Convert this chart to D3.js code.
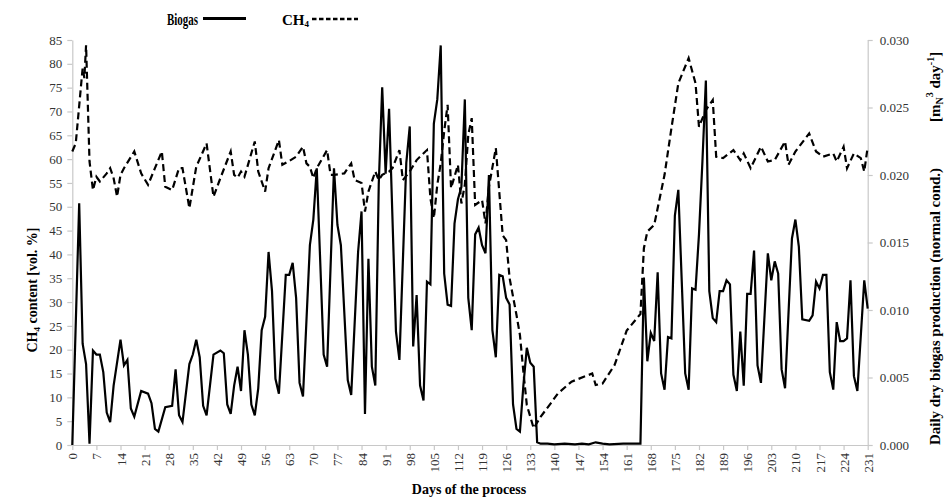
<!DOCTYPE html>
<html>
<head>
<meta charset="utf-8">
<script src="https://cdn.jsdelivr.net/npm/d3@7/dist/d3.min.js"></script>
<style>
  html, body { margin: 0; padding: 0; background: #fff; }
  svg { display: block; }
  text { font-family: "Liberation Serif", "Times New Roman", serif; }
</style>
</head>
<body>
<svg id="chart" width="951" height="501"></svg>
<script>
// ---- data ----
const biogasDays = [0,2,3,4,5,6,7,8,9,10,11,12,14,15,16,17,18,20,22,23,24,25,27,29,30,31,32,34,35,36,37,38,39,41,43,44,45,46,47,48,49,50,51,52,53,54,55,56,57,58,59,60,62,63,64,65,66,67,69,70,71,73,74,76,77,78,80,81,83,84,85,86,87,88,89,90,91,92,94,95,97,98,99,100,101,102,103,104,105,106,107,108,109,110,111,112,113,114,115,116,117,118,119,120,121,122,123,124,125,126,127,128,129,130,131,132,133,134,135,136,138,140,143,146,148,150,152,154,156,160,164,165,166,167,168,169,170,171,172,173,174,175,176,177,178,179,180,181,182,183,184,185,186,187,188,189,190,191,192,193,194,195,196,197,198,199,200,202,203,204,205,206,207,209,210,211,212,214,215,216,217,218,219,220,221,222,223,224,225,226,227,228,230,231];
const biogasValues = [0,0.0179,0.0075,0.0060,0.0001,0.0070,0.0067,0.0067,0.0054,0.0024,0.0017,0.0044,0.0078,0.0059,0.0063,0.0027,0.0021,0.0040,0.0038,0.0031,0.0012,0.0010,0.0028,0.0029,0.0056,0.0022,0.0017,0.0060,0.0067,0.0078,0.0065,0.0029,0.0022,0.0067,0.0070,0.0068,0.0030,0.0023,0.0044,0.0058,0.0040,0.0085,0.0067,0.0030,0.0022,0.0042,0.0085,0.0095,0.0143,0.0114,0.0049,0.0038,0.0126,0.0126,0.0135,0.0109,0.0046,0.0036,0.0148,0.0167,0.0205,0.0067,0.0058,0.0205,0.0163,0.0148,0.0048,0.0037,0.0143,0.0173,0.0023,0.0138,0.0058,0.0044,0.0193,0.0265,0.0201,0.0249,0.0084,0.0063,0.0209,0.0236,0.0073,0.0111,0.0044,0.0033,0.0121,0.0119,0.0238,0.0256,0.0296,0.0127,0.0104,0.0103,0.0164,0.0182,0.0191,0.0256,0.0109,0.0085,0.0156,0.0161,0.0148,0.0142,0.0200,0.0085,0.0065,0.0126,0.0125,0.0109,0.0104,0.0030,0.0012,0.0010,0.0044,0.0072,0.0061,0.0058,0.0002,0.0001,0.0001,0.00005,0.0001,0.00005,0.0001,0.00005,0.0002,0.0001,0.00005,0.0001,0.0001,0.0001,0.0124,0.0062,0.0083,0.0077,0.0128,0.0053,0.0041,0.0080,0.0079,0.0170,0.0189,0.0121,0.0053,0.0041,0.0116,0.0115,0.0156,0.0210,0.0270,0.0114,0.0094,0.0091,0.0114,0.0114,0.0122,0.0119,0.0052,0.0040,0.0084,0.0044,0.0112,0.0112,0.0144,0.0059,0.0046,0.0142,0.0122,0.0136,0.0127,0.0056,0.0042,0.0153,0.0167,0.0147,0.0093,0.0092,0.0096,0.0121,0.0116,0.0126,0.0126,0.0054,0.0041,0.0091,0.0077,0.0077,0.0079,0.0122,0.0051,0.0040,0.0122,0.0101];

const ch4Days = [0,1,3,3.5,4,5,6,7,8,10,11,12,13,14,15,18,20,22,24,26,27,29,31,32,34,36,39,41,43,46,47,48,49,50,53,54,56,57,60,61,63,65,67,68,69,70,71,74,75,76,79,81,82,84,85,86,88,89,90,92,93,95,96,98,100,103,104,105,106,107,108,109,110,112,113,114,115,116,117,119,120,121,123,125,126,127,129,130,131,132,134,136,139,141,145,151,152,154,157.5,161,165,166,167,169,172,174,176,179,181,182,184,186,187,189,192,194,195,197,200,202,204,207,208,210,214,216,218,221,222,224,225,227,229,230,231];
const ch4Values = [61.6,63.3,79.1,77,83.9,59.5,53.5,56.3,55.3,57,58.1,56,52.1,56.7,58.1,61.6,57,54.6,58.1,61.6,54.2,53.5,58.1,58.1,49.7,58.4,63.3,52.1,56,61.6,56.7,56.1,57.4,56.3,63.7,57.4,53.2,58.1,64,58.8,59.6,60.5,62.6,59.1,58.4,56,58.1,61.9,56.7,56.7,57,59.1,55.6,55,49,53.2,57.4,55.6,56.7,57.4,58.1,61.9,55.6,57.4,59.8,61.9,51.8,47.6,54.6,59.1,65.8,71.4,53.9,58.8,50.7,54.6,65.1,68.6,50.4,51.4,46.5,54.2,62.3,44,43,35,27.3,23.1,15.4,8.4,3.5,5.9,8.8,10.8,13.3,15,12.6,12.9,16.8,24,27.5,41.3,44.8,46.2,56.7,66.5,75.9,81.2,75.9,66.8,70.3,72.4,60.5,60.2,61.9,59.8,61.2,58.1,62.6,59.5,59.8,63.7,58.8,61.6,65.4,61.6,60.5,61.2,59.5,62.6,58.1,61.2,60.2,57.4,62.6];

const dayTicks = d3.range(0, 232, 7);
const leftTicks = d3.range(0, 86, 5);
const rightTicks = [0, 0.005, 0.010, 0.015, 0.020, 0.025, 0.030];

// ---- layout ----
const svg = d3.select("#chart");
const x = d3.scaleLinear().domain([0, 231]).range([72.3, 867.7]);
const yL = d3.scaleLinear().domain([0, 85]).range([445, 40]);
const yR = d3.scaleLinear().domain([0, 0.03]).range([445, 40]);
const axisColor = "#c8c8c8";
const labelColor = "#333";

function styleAxis(g) {
  g.selectAll("path.domain").attr("stroke", axisColor).attr("stroke-width", 1.2);
  g.selectAll(".tick line").attr("stroke", axisColor).attr("stroke-width", 1.2);
  g.selectAll(".tick text").attr("fill", labelColor)
    .style("font-family", '"Liberation Serif", serif').style("font-size", "13px");
}

// x axis
const gx = svg.append("g").attr("transform", "translate(0,445)")
  .call(d3.axisBottom(x).tickValues(dayTicks).tickSize(5).tickSizeOuter(0).tickFormat(d3.format("d")));
styleAxis(gx);
gx.selectAll(".tick text")
  .attr("transform", "rotate(-90)")
  .attr("text-anchor", "end")
  .attr("x", -8).attr("y", 0).attr("dy", "0.35em");

// left axis
const gl = svg.append("g").attr("transform", "translate(72.3,0)")
  .call(d3.axisLeft(yL).tickValues(leftTicks).tickSize(5).tickSizeOuter(0).tickFormat(d3.format("d")));
styleAxis(gl);
gl.selectAll(".tick text").attr("x", -10);

// right axis
const gr = svg.append("g").attr("transform", "translate(867.7,0)")
  .call(d3.axisRight(yR).tickValues(rightTicks).tickSize(5).tickSizeOuter(0).tickFormat(d3.format(".3f")));
styleAxis(gr);
gr.selectAll(".tick text").attr("x", 12);

// lines
const lineB = d3.line().x((d, i) => x(biogasDays[i])).y(d => yR(d));
const lineC = d3.line().x((d, i) => x(ch4Days[i])).y(d => yL(d));

svg.append("path").datum(ch4Values)
  .attr("d", lineC).attr("fill", "none").attr("stroke", "#000")
  .attr("stroke-width", 2.2).attr("stroke-dasharray", "7,4").attr("stroke-linejoin", "miter");

svg.append("path").datum(biogasValues)
  .attr("d", lineB).attr("fill", "none").attr("stroke", "#000")
  .attr("stroke-width", 2.2).attr("stroke-linejoin", "miter");

// legend
const leg = svg.append("g");
leg.append("text").attr("x", 167).attr("y", 25).attr("font-weight", "bold")
  .attr("font-size", 17).attr("textLength", 31).attr("lengthAdjust", "spacingAndGlyphs")
  .text("Biogas");
leg.append("line").attr("x1", 203).attr("x2", 246).attr("y1", 18.5).attr("y2", 18.5)
  .attr("stroke", "#000").attr("stroke-width", 3);
const ch4Leg = leg.append("text").attr("x", 282).attr("y", 25).attr("font-size", 15)
  .attr("font-weight", "bold");
ch4Leg.append("tspan").text("CH");
ch4Leg.append("tspan").attr("font-size", 9).attr("dy", 2).text("4");
leg.append("line").attr("x1", 312).attr("x2", 358).attr("y1", 19).attr("y2", 19)
  .attr("stroke", "#000").attr("stroke-width", 2.5).attr("stroke-dasharray", "4.5,2.5");

// axis titles
svg.append("text").attr("x", 469).attr("y", 494).attr("text-anchor", "middle")
  .attr("font-weight", "bold").attr("font-size", 14).text("Days of the process");

const lt = svg.append("text").attr("transform", "translate(37,290) rotate(-90)")
  .attr("text-anchor", "middle").attr("font-weight", "bold").attr("font-size", 14);
lt.append("tspan").text("CH");
lt.append("tspan").attr("font-size", 9).attr("dy", 3).text("4");
lt.append("tspan").attr("dy", -3).text(" content [vol. %]");

svg.append("text").attr("transform", "translate(940,445) rotate(-90)")
  .attr("text-anchor", "start").attr("font-weight", "bold").attr("font-size", 15)
  .attr("textLength", 277).attr("lengthAdjust", "spacingAndGlyphs")
  .text("Daily dry biogas production (normal cond.)");

const rt = svg.append("text").attr("transform", "translate(940,122) rotate(-90)")
  .attr("text-anchor", "start").attr("font-weight", "bold").attr("font-size", 15);
rt.append("tspan").text("[m");
rt.append("tspan").attr("font-size", 10).attr("dy", 3).text("N");
rt.append("tspan").attr("font-size", 10).attr("dy", -10).text("3");
rt.append("tspan").attr("dy", 7).text(" day");
rt.append("tspan").attr("font-size", 10).attr("dy", -6).text("-1");
rt.append("tspan").attr("dy", 6).text("]");
</script>
</body>
</html>
